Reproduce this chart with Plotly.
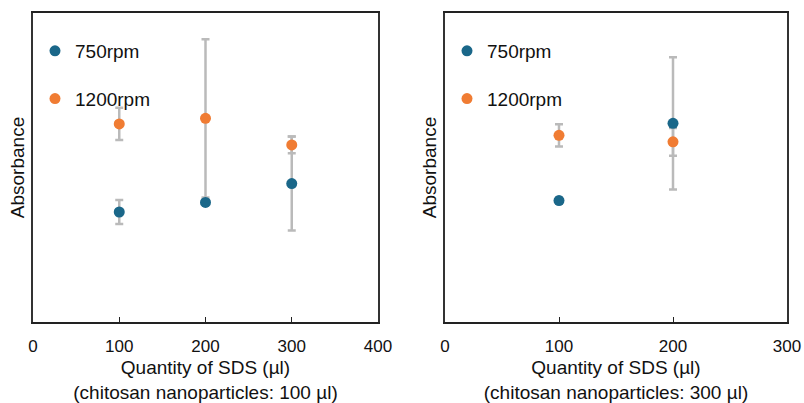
import plotly.graph_objects as go

# ---- data (absorbance in arbitrary units; no y tick labels in source) ----
sds_left = [100, 200, 300]
abs750_left = [0.356, 0.387, 0.448]
err750_left = [0.039, 0.0, 0.152]
abs1200_left = [0.641, 0.659, 0.573]
err1200_left = [0.052, 0.256, 0.027]

sds_right = [100, 200]
abs750_right = [0.393, 0.643]
err750_right = [0.010, 0.214]
abs1200_right = [0.604, 0.583]
err1200_right = [0.036, 0.045]

x_ticks_left = [0, 100, 200, 300, 400]
x_ticks_right = [0, 100, 200, 300]

BLUE = "#1a6789"
ORANGE = "#f07c33"
ERR = "#bababa"
FONT = "Liberation Sans, Arial, sans-serif"

fig = go.Figure()


def add_panel(xv, y750, e750, y1200, e1200, xa, ya, legend):
    # error bars first (beneath all markers)
    for y, e in ((y750, e750), (y1200, e1200)):
        fig.add_trace(go.Scatter(
            x=xv, y=y, mode="markers", xaxis=xa, yaxis=ya,
            marker=dict(size=1, color="rgba(0,0,0,0)"),
            error_y=dict(type="data", array=e, visible=True, color=ERR,
                         thickness=2.5, width=4),
            showlegend=False, hoverinfo="skip"))
    fig.add_trace(go.Scatter(
        x=xv, y=y750, mode="markers", name="750rpm", xaxis=xa, yaxis=ya,
        marker=dict(size=11, color=BLUE), legend=legend,
        legendgroup=legend + "a"))
    fig.add_trace(go.Scatter(
        x=xv, y=y1200, mode="markers", name="1200rpm", xaxis=xa, yaxis=ya,
        marker=dict(size=11, color=ORANGE), legend=legend,
        legendgroup=legend + "b"))


add_panel(sds_left, abs750_left, err750_left, abs1200_left, err1200_left,
          "x", "y", "legend")
add_panel(sds_right, abs750_right, err750_right, abs1200_right, err1200_right,
          "x2", "y2", "legend2")

W, H = 804, 403
ydom = [1 - 322 / H, 1 - 13 / H]

xcommon = dict(showline=True, mirror=True, linecolor="#222", linewidth=1.5,
               ticks="inside", ticklen=5, tickcolor="#222", showgrid=False,
               zeroline=False, automargin=False, ticklabelstandoff=8,
               tickfont=dict(family=FONT, size=17, color="#111"),
               title_font=dict(family=FONT, size=19, color="#111"))
ycommon = dict(showline=True, mirror=True, linecolor="#333", linewidth=1.5,
               showticklabels=False, ticks="", showgrid=False, zeroline=False,
               range=[0, 1], automargin=False,
               title=dict(text="Absorbance", standoff=2,
                          font=dict(family=FONT, size=19, color="#111")))

fig.update_layout(
    width=W, height=H, margin=dict(l=0, r=0, t=0, b=0, autoexpand=False),
    paper_bgcolor="white", plot_bgcolor="white",
    xaxis=dict(domain=[33 / W, 378 / W], range=[0, 400], tickvals=x_ticks_left,
               title=dict(text="Quantity of SDS (µl)<br>(chitosan nanoparticles: 100 µl)",
                          standoff=6), **xcommon),
    xaxis2=dict(domain=[445 / W, 787 / W], range=[0, 300], tickvals=x_ticks_right,
                title=dict(text="Quantity of SDS (µl)<br>(chitosan nanoparticles: 300 µl)",
                           standoff=6), **xcommon),
    yaxis=dict(domain=ydom, anchor="x", **ycommon),
    yaxis2=dict(domain=ydom, anchor="x2", **ycommon),
    legend=dict(x=35 / W, y=1 - 32 / H, xanchor="left", yanchor="top",
                bgcolor="rgba(0,0,0,0)", tracegroupgap=20,
                font=dict(family=FONT, size=19, color="#111")),
    legend2=dict(x=447 / W, y=1 - 32 / H, xanchor="left", yanchor="top",
                 bgcolor="rgba(0,0,0,0)", tracegroupgap=20,
                 font=dict(family=FONT, size=19, color="#111")),
)

fig.write_html("out.html")
